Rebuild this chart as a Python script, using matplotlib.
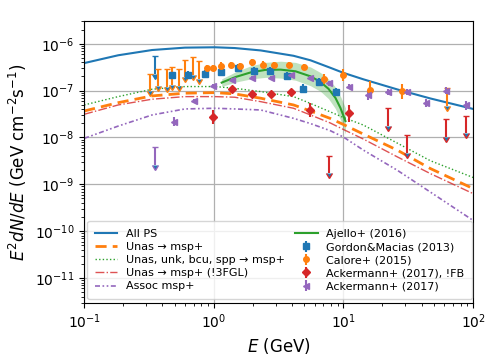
import matplotlib
matplotlib.use("Agg")
import matplotlib.pyplot as plt
import numpy as np

# --- model curves (E in GeV, E^2 dN/dE in GeV cm^-2 s^-1)
e_model = [0.1, 0.183, 0.334, 0.598, 1.02, 1.45, 2.30, 4.12, 5.57, 7.94, 10.0, 14.25, 26.0, 46.7, 100.0]
all_ps = [3.86e-7, 5.67e-7, 7.34e-7, 8.25e-7, 8.40e-7, 8.09e-7, 7.19e-7, 5.53e-7, 4.43e-7, 3.06e-7,
          2.39e-7, 1.74e-7, 1.06e-7, 6.81e-8, 4.06e-8]
unas_msp = [3.67e-8, 5.53e-8, 7.70e-8, 8.80e-8, 9.06e-8, 8.50e-8, 6.88e-8, 4.94e-8, 3.67e-8, 2.54e-8,
            1.89e-8, 1.18e-8, 5.37e-9, 2.18e-9, 8.13e-10]
unas_unk_msp = [4.94e-8, 7.44e-8, 1.07e-7, 1.22e-7, 1.22e-7, 1.12e-7, 9.52e-8, 7.44e-8, 5.32e-8, 3.50e-8,
                2.67e-8, 1.84e-8, 7.59e-9, 3.20e-9, 1.40e-9]
unas_msp_no3fgl = [3.12e-8, 4.94e-8, 6.55e-8, 7.44e-8, 7.44e-8, 7.22e-8, 5.81e-8, 4.20e-8, 3.02e-8, 2.03e-8,
                   1.48e-8, 9.24e-9, 3.86e-9, 1.70e-9, 6.35e-10]
assoc_msp = [9.57e-9, 1.75e-8, 3.02e-8, 4.06e-8, 4.20e-8, 4.06e-8, 3.86e-8, 2.56e-8, 1.98e-8, 1.39e-8,
             1.02e-8, 5.37e-9, 2.00e-9, 6.87e-10, 1.70e-10]

# Ajello+ (2016) spectrum and band half-width (dex)
e_ajello = [1.15, 1.48, 1.93, 2.51, 3.28, 4.27, 5.58, 6.65, 7.67, 8.67, 9.48, 10.36]
y_ajello = [1.48e-7, 1.96e-7, 2.45e-7, 2.77e-7, 2.80e-7, 2.58e-7, 2.01e-7, 1.53e-7, 1.09e-7, 7.0e-8,
            4.26e-8, 2.24e-8]
band_ajello = [0.08, 0.11, 0.14, 0.16, 0.18, 0.19, 0.20, 0.20, 0.21, 0.23, 0.25, 0.28]

# Gordon & Macias (2013)
e_gm = [0.478, 0.636, 0.853, 1.14, 1.53, 2.04, 2.71, 3.64, 4.86, 6.51, 8.75]
y_gm = [2.14e-7, 2.19e-7, 2.28e-7, 2.55e-7, 3.11e-7, 2.60e-7, 2.68e-7, 2.06e-7, 1.10e-7, 1.51e-7, 9.3e-8]
err_gm = [0.08, 0.08, 0.08, 0.08, 0.08, 0.08, 0.08, 0.08, 0.10, 0.09, 0.09]
e_gm_ul = [0.355]
y_gm_ul = [5.35e-7]

# Calore+ (2015)
e_cal = [0.891, 0.982, 1.146, 1.346, 1.60, 1.985, 2.38, 2.91, 3.81, 4.95, 7.02, 10.0, 16.1, 28.4]
y_cal = [2.98e-7, 3.06e-7, 3.43e-7, 3.55e-7, 3.27e-7, 4.02e-7, 3.60e-7, 3.55e-7, 3.50e-7, 3.21e-7,
         1.78e-7, 2.14e-7, 1.05e-7, 9.7e-8]
err_cal = [0.07, 0.07, 0.07, 0.07, 0.07, 0.07, 0.07, 0.07, 0.07, 0.07, 0.10, 0.12, 0.18, 0.16]
e_cal_ul = [0.324, 0.374, 0.435, 0.48, 0.541, 0.601, 0.686, 0.767, 62.8]
y_cal_ul = [2.31e-7, 2.92e-7, 2.87e-7, 3.14e-7, 2.94e-7, 4.54e-7, 5.14e-7, 4.18e-7, 1.14e-7]

# Ackermann+ (2017), !FB
e_afb = [0.99, 1.39, 1.96, 2.77, 3.91, 5.5, 11.0]
y_afb = [2.69e-8, 1.06e-7, 8.5e-8, 8.5e-8, 9.25e-8, 3.86e-8, 3.28e-8]
err_afb = [0.15, 0.06, 0.05, 0.05, 0.05, 0.15, 0.18]
e_afb_ul = [7.8, 21.9, 30.9, 62.0, 87.9]
y_afb_ul = [4.06e-9, 4.2e-8, 1.12e-8, 2.44e-8, 2.92e-8]

# Ackermann+ (2017)
e_ack = [0.495, 0.705, 0.99, 1.39, 1.96, 2.77, 3.91, 5.5, 7.8, 11.0, 15.5, 21.9, 30.9, 43.7, 62.0, 88.0]
y_ack = [2.17e-8, 6.01e-8, 1.26e-7, 1.69e-7, 1.90e-7, 1.90e-7, 2.17e-7, 1.87e-7, 1.44e-7, 1.22e-7,
         8.09e-8, 9.24e-8, 9.24e-8, 5.46e-8, 1.0e-7, 4.82e-8]
err_ack = [0.10, 0.04, 0.04, 0.04, 0.04, 0.04, 0.04, 0.05, 0.05, 0.06, 0.10, 0.07, 0.07, 0.08, 0.08, 0.10]
e_ack_ul = [0.35]
y_ack_ul = [6.14e-9]


def logerr(y, d):
    y = np.asarray(y)
    d = np.asarray(d)
    return [y - y * 10**(-d), y * 10**d - y]


def ularrow(y):
    # length of the upper-limit arrow
    return 0.58 * np.asarray(y)


fig = plt.figure(figsize=(4.98, 3.56), dpi=100)
ax = fig.add_axes([0.169, 0.15, 0.781, 0.79])

ax.plot(e_model, all_ps, color='C0', lw=1.5, label='All PS')
ax.plot(e_model, unas_msp, color='C1', lw=2, ls=(0, (4, 2.2)), label='Unas → msp+')
ax.plot(e_model, unas_unk_msp, color='C2', lw=1, ls=(0, (1, 1.6)), label='Unas, unk, bcu, spp → msp+')
ax.plot(e_model, unas_msp_no3fgl, color='C3', lw=1, ls='-.', alpha=0.8, label='Unas → msp+ (!3FGL)')
ax.plot(e_model, assoc_msp, color='C4', lw=1.2, ls=(0, (3, 1.5, 1, 1.5, 1, 1.5)), label='Assoc msp+')

ax.plot(e_ajello, y_ajello, color='C2', lw=1.5, label='Ajello+ (2016)')
ya = np.asarray(y_ajello)
ba = np.asarray(band_ajello)
ax.fill_between(e_ajello, ya * 10**(-ba), ya * 10**ba, color='C2', alpha=0.3, lw=0)

ax.errorbar(e_gm, y_gm, yerr=logerr(y_gm, err_gm), fmt='s', color='C0', ms=4, label='Gordon&Macias (2013)')
ax.errorbar(e_gm_ul, y_gm_ul, yerr=ularrow(y_gm_ul), uplims=True, fmt='none', ecolor='C0', capsize=2.5)

ax.errorbar(e_cal, y_cal, yerr=logerr(y_cal, err_cal), fmt='o', color='C1', ms=4, label='Calore+ (2015)')
ax.errorbar(e_cal_ul, y_cal_ul, yerr=ularrow(y_cal_ul), uplims=True, fmt='none', ecolor='C1', capsize=2.5)

ax.errorbar(e_afb, y_afb, yerr=logerr(y_afb, err_afb), fmt='D', color='C3', ms=4, label='Ackermann+ (2017), !FB')
ax.errorbar(e_afb_ul, y_afb_ul, yerr=ularrow(y_afb_ul), uplims=True, fmt='none', ecolor='C3', capsize=2.5)

ax.errorbar(e_ack, y_ack, yerr=logerr(y_ack, err_ack), fmt='<', color='C4', ms=4.5, label='Ackermann+ (2017)')
ax.errorbar(e_ack_ul, y_ack_ul, yerr=ularrow(y_ack_ul), uplims=True, fmt='none', ecolor='C4', capsize=2.5)

ax.set_xscale('log')
ax.set_yscale('log')
ax.set_xlim(0.1, 100)
ax.set_ylim(3e-12, 3e-6)
ax.grid(True, which='major', color='#b0b0b0', lw=0.9)
ax.set_axisbelow(True)
ax.tick_params(labelsize=10)
ax.set_xlabel(r'$E$ (GeV)', fontsize=12)
ax.set_ylabel(r'$E^2dN/dE$ (GeV cm$^{-2}$s$^{-1}$)', fontsize=12)

ax.legend(loc='lower left', ncol=2, fontsize=8, labelspacing=0.28, borderpad=0.7,
          borderaxespad=0.3, columnspacing=0.9)

fig.savefig('out.png', dpi=100)
